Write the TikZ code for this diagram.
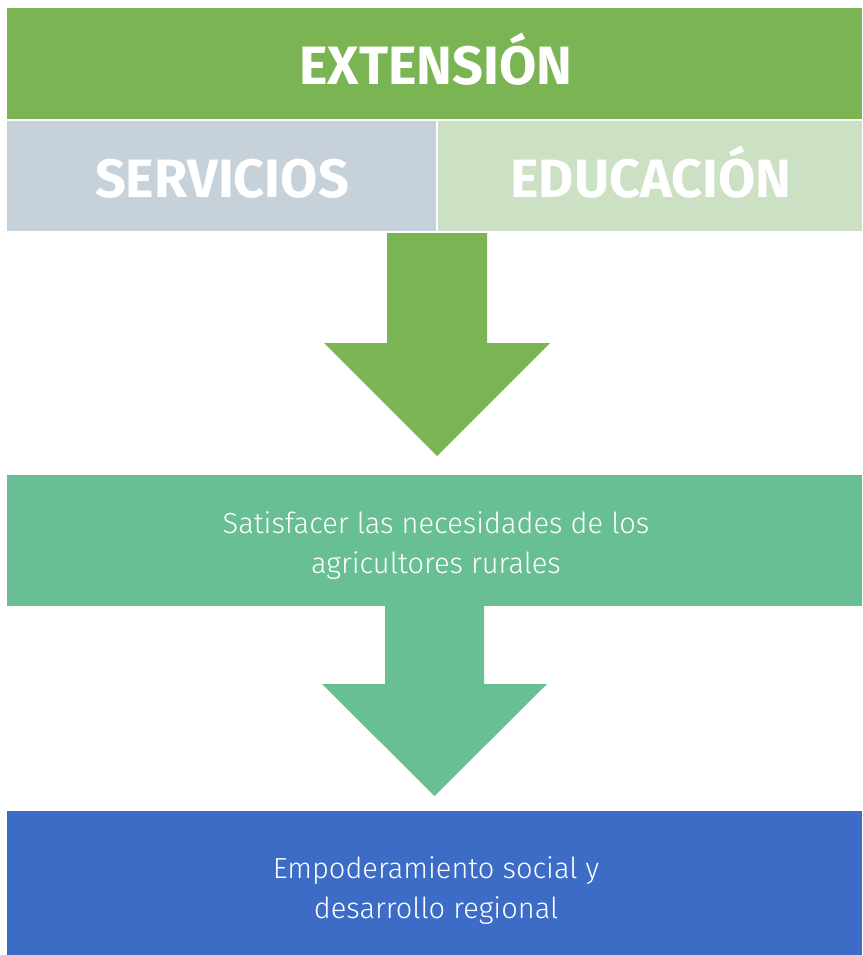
\documentclass[tikz,border=0pt]{standalone}
\usepackage{fontspec}
\setmainfont{Fira Sans}
\newfontfamily\lightfont{Fira Sans Light}
\definecolor{topgreen}{HTML}{7AB453}
\definecolor{servgray}{HTML}{C7D1DA}
\definecolor{edugreen}{HTML}{CCE0C4}
\definecolor{midgreen}{HTML}{68BF94}
\definecolor{botblue}{HTML}{3C6CC6}
\begin{document}
\begin{tikzpicture}[x=1pt,y=-1pt,
  box/.style={anchor=north west,inner sep=0pt,outer sep=0pt},
  headtxt/.style={anchor=base,inner sep=0pt,text=white,font=\fontsize{54}{60}\selectfont\bfseries},
  bodytxt/.style={anchor=base,inner sep=0pt,text=white,font=\lightfont\fontsize{29}{40}\selectfont}]
\useasboundingbox (0,0) rectangle (862,955);
\fill[white] (0,0) rectangle (862,955);
% boxes
\node[box,fill=topgreen,minimum width=855pt,minimum height=111pt] (ext) at (7,8) {};
\node[box,fill=servgray,minimum width=429pt,minimum height=110pt] (serv) at (7,121) {};
\node[box,fill=edugreen,minimum width=424pt,minimum height=110pt] (edu) at (438,121) {};
\node[box,fill=midgreen,minimum width=855pt,minimum height=131pt] (sat) at (7,475) {};
\node[box,fill=botblue,minimum width=855pt,minimum height=144pt] (emp) at (7,811) {};
% texts
\node[headtxt] (extT) at (436,85) {EXTENSIÓN};
\node[headtxt] (servT) at (222,197) {SERVICIOS};
\node[headtxt] (eduT) at (651,197) {EDUCACIÓN};
\node[bodytxt] (satA) at (436,533) {Satisfacer las necesidades de los};
\node[bodytxt] (satB) at (436,573) {agricultores rurales};
\node[bodytxt] (empA) at (436,878) {Empoderamiento social y};
\node[bodytxt] (empB) at (436,918) {desarrollo regional};
% block arrows
\coordinate (a1) at (437,233);
\coordinate (t1) at (437,456);
\fill[topgreen] (a1) ++(-50,0) -- ++(100,0) -- ++(0,110) -- ++(63,0) -- (t1) -- (324,343) -- (387,343) -- cycle;
\coordinate (a2) at (434.5,606);
\coordinate (t2) at (434.5,796);
\fill[midgreen] (a2) ++(-49.5,0) -- ++(99,0) -- ++(0,78) -- ++(63,0) -- (t2) -- (322,684) -- (385,684) -- cycle;
\end{tikzpicture}
\end{document}
